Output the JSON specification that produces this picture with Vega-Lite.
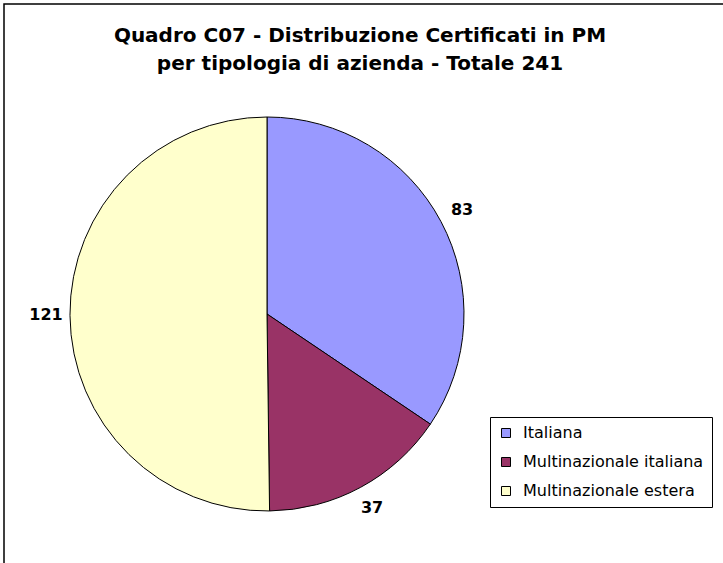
{
  "$schema": "https://vega.github.io/schema/vega-lite/v6.json",
  "autosize": {"type": "none"},
  "width": 760,
  "height": 600,
  "padding": {"left": 4, "top": 4, "right": 0, "bottom": 0},
  "background": "white",
  "config": {
    "view": {"stroke": "black", "strokeWidth": 1.5, "fill": "white"},
    "font": "DejaVu Sans"
  },
  "title": {
    "text": ["Quadro C07 - Distribuzione Certificati in PM", "per tipologia di azienda  - Totale 241"],
    "font": "DejaVu Sans",
    "fontSize": 20,
    "fontWeight": "bold",
    "lineHeight": 28,
    "color": "black",
    "anchor": "middle",
    "dx": -24,
    "dy": 74
  },
  "data": {
    "values": [
      {"tipologia": "Italiana", "certificati": 83, "ordine": 1},
      {"tipologia": "Multinazionale italiana", "certificati": 37, "ordine": 2},
      {"tipologia": "Multinazionale estera", "certificati": 121, "ordine": 3}
    ]
  },
  "encoding": {
    "theta": {"field": "certificati", "type": "quantitative", "stack": true},
    "order": {"field": "ordine", "type": "quantitative"},
    "x": {"value": 263},
    "y": {"value": 310}
  },
  "layer": [
    {
      "mark": {"type": "arc", "outerRadius": 197, "stroke": "black", "strokeWidth": 1},
      "encoding": {
        "color": {
          "field": "tipologia",
          "type": "nominal",
          "sort": ["Italiana", "Multinazionale italiana", "Multinazionale estera"],
          "scale": {
            "domain": ["Italiana", "Multinazionale italiana", "Multinazionale estera"],
            "range": ["#9999FF", "#993366", "#FFFFCC"]
          },
          "legend": {
            "title": null,
            "orient": "none",
            "legendX": 486,
            "legendY": 413,
            "symbolType": "square",
            "symbolSize": 81,
            "symbolStrokeColor": "black",
            "symbolStrokeWidth": 1,
            "symbolOpacity": 1,
            "labelFont": "DejaVu Sans",
            "labelFontSize": 16,
            "labelColor": "black",
            "labelOffset": 9,
            "labelLimit": 400,
            "rowPadding": 13,
            "padding": 8,
            "strokeColor": "black",
            "fillColor": "white"
          }
        }
      }
    },
    {
      "mark": {"type": "text", "radius": 221, "font": "DejaVu Sans", "fontSize": 16, "fontWeight": "bold", "color": "black"},
      "encoding": {
        "text": {"field": "certificati", "type": "quantitative"}
      }
    }
  ]
}
